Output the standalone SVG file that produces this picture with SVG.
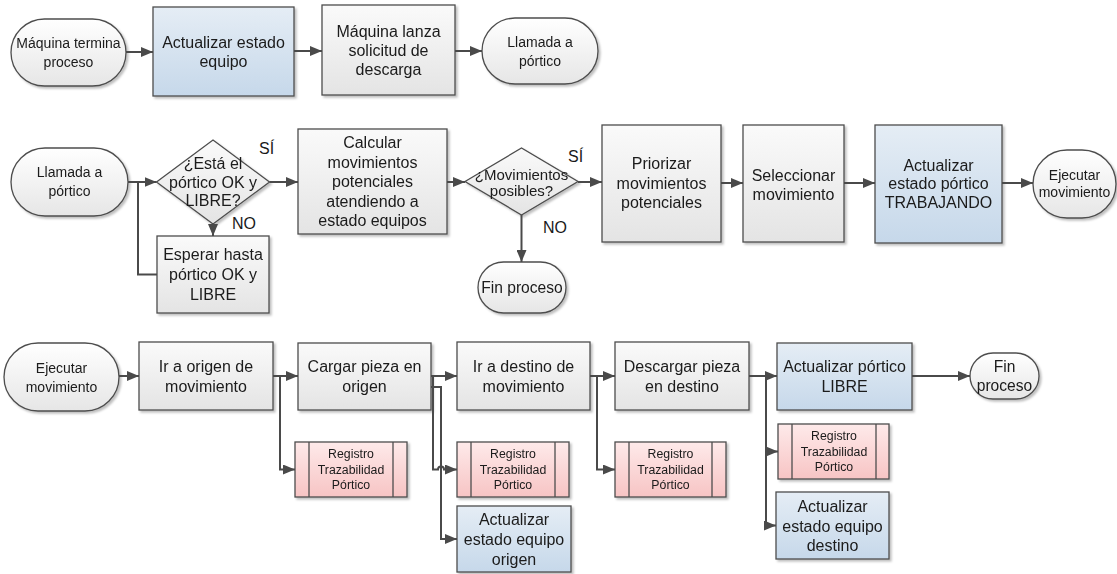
<svg xmlns="http://www.w3.org/2000/svg" width="1117" height="574" viewBox="0 0 1117 574">
<style>
text{font-family:"Liberation Sans",Arial,sans-serif;fill:#1a1a1a;text-anchor:middle}
.t16{font-size:16px}.t15{font-size:15.6px}.t14{font-size:14px}.t12{font-size:12.3px}
.lbl{font-size:16px;text-anchor:start}
.grey{fill:url(#gGrey);stroke:#4d4d4d;stroke-width:1.3}
.blue{fill:url(#gBlue);stroke:#4d4d4d;stroke-width:1.3}
.pink{fill:url(#gPink);stroke:#4d4d4d;stroke-width:1.3}
.term{fill:url(#gTerm);stroke:#4d4d4d;stroke-width:1.3}
.inner{stroke:#4d4d4d;stroke-width:1.3}
.shape{filter:url(#sh)}
.c{fill:none;stroke:#4a4a4a;stroke-width:2}
.a{marker-end:url(#ah)}
</style>
<defs>
<linearGradient id="gGrey" x1="0" y1="0" x2="0" y2="1"><stop offset="0" stop-color="#fafafa"/><stop offset="1" stop-color="#e4e4e4"/></linearGradient>
<linearGradient id="gTerm" x1="0" y1="0" x2="0" y2="1"><stop offset="0" stop-color="#ffffff"/><stop offset="1" stop-color="#e6e6e6"/></linearGradient>
<linearGradient id="gBlue" x1="0" y1="0" x2="0" y2="1"><stop offset="0" stop-color="#e5edf5"/><stop offset="1" stop-color="#c6d8ea"/></linearGradient>
<linearGradient id="gPink" x1="0" y1="0" x2="0" y2="1"><stop offset="0" stop-color="#feeaea"/><stop offset="1" stop-color="#f7c4c4"/></linearGradient>
<filter id="sh" x="-10%" y="-10%" width="130%" height="130%"><feDropShadow dx="2" dy="2" stdDeviation="1" flood-color="#000" flood-opacity="0.25"/></filter>
<marker id="ah" viewBox="0 0 12 10" markerWidth="12" markerHeight="10" refX="12" refY="5" orient="auto" markerUnits="userSpaceOnUse"><path d="M0,0 L12,5 L0,10 z" fill="#4a4a4a"/></marker>
</defs>

<!-- Row 1 -->
<g id="n_maquina_termina" class="shape"><rect class="term" x="11" y="19" width="115" height="67" rx="33.5"/><text class="t14" x="68.5" y="48">Máquina termina</text><text class="t14" x="68.5" y="67">proceso</text></g>
<g id="n_actualizar_equipo" class="shape"><rect class="blue" x="153" y="7" width="141" height="89"/><text class="t16" x="223.5" y="47.7">Actualizar estado</text><text class="t16" x="223.5" y="66.7">equipo</text></g>
<g id="n_maquina_lanza" class="shape"><rect class="grey" x="322" y="5" width="133" height="90"/><text class="t16" x="388.5" y="36.7">Máquina lanza</text><text class="t16" x="388.5" y="55.7">solicitud de</text><text class="t16" x="388.5" y="74.7">descarga</text></g>
<g id="n_llamada1" class="shape"><rect class="term" x="482" y="18" width="116" height="66" rx="33"/><text class="t14" x="540" y="46.5">Llamada a</text><text class="t14" x="540" y="65.5">pórtico</text></g>

<!-- Row 2 -->
<g id="n_llamada2" class="shape"><rect class="term" x="11" y="148" width="117" height="68" rx="34"/><text class="t14" x="69.5" y="177">Llamada a</text><text class="t14" x="69.5" y="196">pórtico</text></g>
<g id="n_dec_portico" class="shape"><polygon class="grey" points="156.5,182 213,140 269.5,182 213,224"/><text class="t16" x="213" y="169.2">¿Está el</text><text class="t16" x="213" y="187.7">pórtico OK y</text><text class="t16" x="213" y="206.2">LIBRE?</text></g>
<g id="n_esperar" class="shape"><rect class="grey" x="157" y="236" width="112" height="77"/><text class="t16" x="213" y="260">Esperar hasta</text><text class="t16" x="213" y="280">pórtico OK y</text><text class="t16" x="213" y="300">LIBRE</text></g>
<g id="n_calcular" class="shape"><rect class="grey" x="298" y="129" width="149" height="105"/><text class="t16" x="372.5" y="148.2">Calcular</text><text class="t16" x="372.5" y="167.7">movimientos</text><text class="t16" x="372.5" y="187.2">potenciales</text><text class="t16" x="372.5" y="206.7">atendiendo a</text><text class="t16" x="372.5" y="226.2">estado equipos</text></g>
<g id="n_dec_mov" class="shape"><polygon class="grey" points="465,181.5 521.5,148 578,181.5 521.5,215"/><text class="t15" x="521.5" y="179.5" style="font-size:15px">¿Movimientos</text><text class="t15" x="521.5" y="196" style="font-size:15px">posibles?</text></g>
<g id="n_fin1" class="shape"><rect class="term" x="478" y="262" width="88" height="51" rx="25.5"/><text class="t15" x="522" y="293">Fin proceso</text></g>
<g id="n_priorizar" class="shape"><rect class="grey" x="602" y="125" width="119" height="117"/><text class="t16" x="661.5" y="169">Priorizar</text><text class="t16" x="661.5" y="188.7">movimientos</text><text class="t16" x="661.5" y="208.4">potenciales</text></g>
<g id="n_seleccionar" class="shape"><rect class="grey" x="743" y="125" width="101" height="117"/><text class="t16" x="793.5" y="180.7">Seleccionar</text><text class="t16" x="793.5" y="199.7">movimiento</text></g>
<g id="n_trabajando" class="shape"><rect class="blue" x="875" y="125" width="127" height="118"/><text class="t16" x="938.5" y="170.5">Actualizar</text><text class="t16" x="938.5" y="189.3">estado pórtico</text><text class="t16" x="938.5" y="208.2">TRABAJANDO</text></g>
<g id="n_ejecutar1" class="shape"><rect class="term" x="1033" y="150" width="83" height="68" rx="34"/><text class="t14" x="1074.5" y="180">Ejecutar</text><text class="t14" x="1074.5" y="197">movimiento</text></g>

<!-- Row 3 -->
<g id="n_ejecutar2" class="shape"><rect class="term" x="4" y="343" width="115" height="68" rx="34"/><text class="t14" x="61.5" y="372.5">Ejecutar</text><text class="t14" x="61.5" y="391.5">movimiento</text></g>
<g id="n_ir_origen" class="shape"><rect class="grey" x="139" y="342" width="134" height="68"/><text class="t16" x="206" y="372">Ir a origen de</text><text class="t16" x="206" y="392">movimiento</text></g>
<g id="n_cargar" class="shape"><rect class="grey" x="298" y="343" width="133" height="67"/><text class="t16" x="364.5" y="372.4">Cargar pieza en</text><text class="t16" x="364.5" y="392.4">origen</text></g>
<g id="n_ir_destino" class="shape"><rect class="grey" x="457" y="342" width="133" height="68"/><text class="t16" x="523.5" y="372">Ir a destino de</text><text class="t16" x="523.5" y="392">movimiento</text></g>
<g id="n_descargar" class="shape"><rect class="grey" x="615" y="342" width="134" height="68"/><text class="t16" x="682" y="372">Descargar pieza</text><text class="t16" x="682" y="392">en destino</text></g>
<g id="n_libre" class="shape"><rect class="blue" x="777" y="343" width="135" height="67"/><text class="t16" x="844.5" y="372">Actualizar pórtico</text><text class="t16" x="844.5" y="392">LIBRE</text></g>
<g id="n_fin2" class="shape"><rect class="term" x="970" y="353" width="69" height="46" rx="23"/><text class="t15" x="1004.5" y="372">Fin</text><text class="t15" x="1004.5" y="390.5">proceso</text></g>
<g id="n_reg1" class="shape"><rect class="pink" x="295" y="442" width="112" height="55"/><line class="inner" x1="309" y1="442" x2="309" y2="497"/><line class="inner" x1="393" y1="442" x2="393" y2="497"/><text class="t12" x="351" y="458.4">Registro</text><text class="t12" x="351" y="473.9">Trazabilidad</text><text class="t12" x="351" y="489.4">Pórtico</text></g>
<g id="n_reg2" class="shape"><rect class="pink" x="457" y="442" width="112" height="55"/><line class="inner" x1="471" y1="442" x2="471" y2="497"/><line class="inner" x1="555" y1="442" x2="555" y2="497"/><text class="t12" x="513" y="458.4">Registro</text><text class="t12" x="513" y="473.9">Trazabilidad</text><text class="t12" x="513" y="489.4">Pórtico</text></g>
<g id="n_reg3" class="shape"><rect class="pink" x="615" y="442" width="111" height="55"/><line class="inner" x1="629" y1="442" x2="629" y2="497"/><line class="inner" x1="712" y1="442" x2="712" y2="497"/><text class="t12" x="670.5" y="458.4">Registro</text><text class="t12" x="670.5" y="473.9">Trazabilidad</text><text class="t12" x="670.5" y="489.4">Pórtico</text></g>
<g id="n_reg4" class="shape"><rect class="pink" x="778" y="424" width="111" height="55"/><line class="inner" x1="792" y1="424" x2="792" y2="479"/><line class="inner" x1="876" y1="424" x2="876" y2="479"/><text class="t12" x="834" y="440.4">Registro</text><text class="t12" x="834" y="455.9">Trazabilidad</text><text class="t12" x="834" y="471.4">Pórtico</text></g>
<g id="n_act_origen" class="shape"><rect class="blue" x="457" y="506" width="114" height="66"/><text class="t16" x="514" y="525">Actualizar</text><text class="t16" x="514" y="545">estado equipo</text><text class="t16" x="514" y="565">origen</text></g>
<g id="n_act_destino" class="shape"><rect class="blue" x="776" y="492" width="113" height="67"/><text class="t16" x="832.5" y="512.4">Actualizar</text><text class="t16" x="832.5" y="532.4">estado equipo</text><text class="t16" x="832.5" y="551.4">destino</text></g>

<g id="connectors">
<path class="c a" d="M126,52 H153"/>
<path class="c a" d="M294,51 H322"/>
<path class="c a" d="M455,51 H482"/>
<path class="c a" d="M128,182 H156.5"/>
<path class="c" d="M157,274.5 H138 V182"/>
<path class="c a" d="M213,224 V236"/>
<path class="c a" d="M269.5,182 H298"/>
<path class="c a" d="M447,182 H465"/>
<path class="c a" d="M578,182 H602"/>
<path class="c a" d="M521.5,215 V262"/>
<path class="c a" d="M721,183 H743"/>
<path class="c a" d="M844,183 H875"/>
<path class="c a" d="M1002,183 H1033"/>
<path class="c a" d="M119,376 H139"/>
<path class="c a" d="M273,376 H298"/>
<path class="c a" d="M280,376 V469.5 H295"/>
<path class="c a" d="M431,376 H457"/>
<path class="c a" d="M431,387 H441 V539 H457"/>
<path class="c a" d="M433,376 V469.5 H438 A3,3 0 0 1 444,469.5 H457"/>
<path class="c a" d="M590,376 H615"/>
<path class="c a" d="M597,376 V469.5 H615"/>
<path class="c a" d="M749,376 H777"/>
<path class="c a" d="M766,376 V525.5 H776"/>
<path class="c a" d="M766,451.5 H778"/>
<path class="c a" d="M912,376 H970"/>
</g>
<g id="labels">
<text class="lbl" x="259" y="154">SÍ</text>
<text class="lbl" x="232" y="229">NO</text>
<text class="lbl" x="568" y="162">SÍ</text>
<text class="lbl" x="543" y="233">NO</text>
</g>
</svg>
